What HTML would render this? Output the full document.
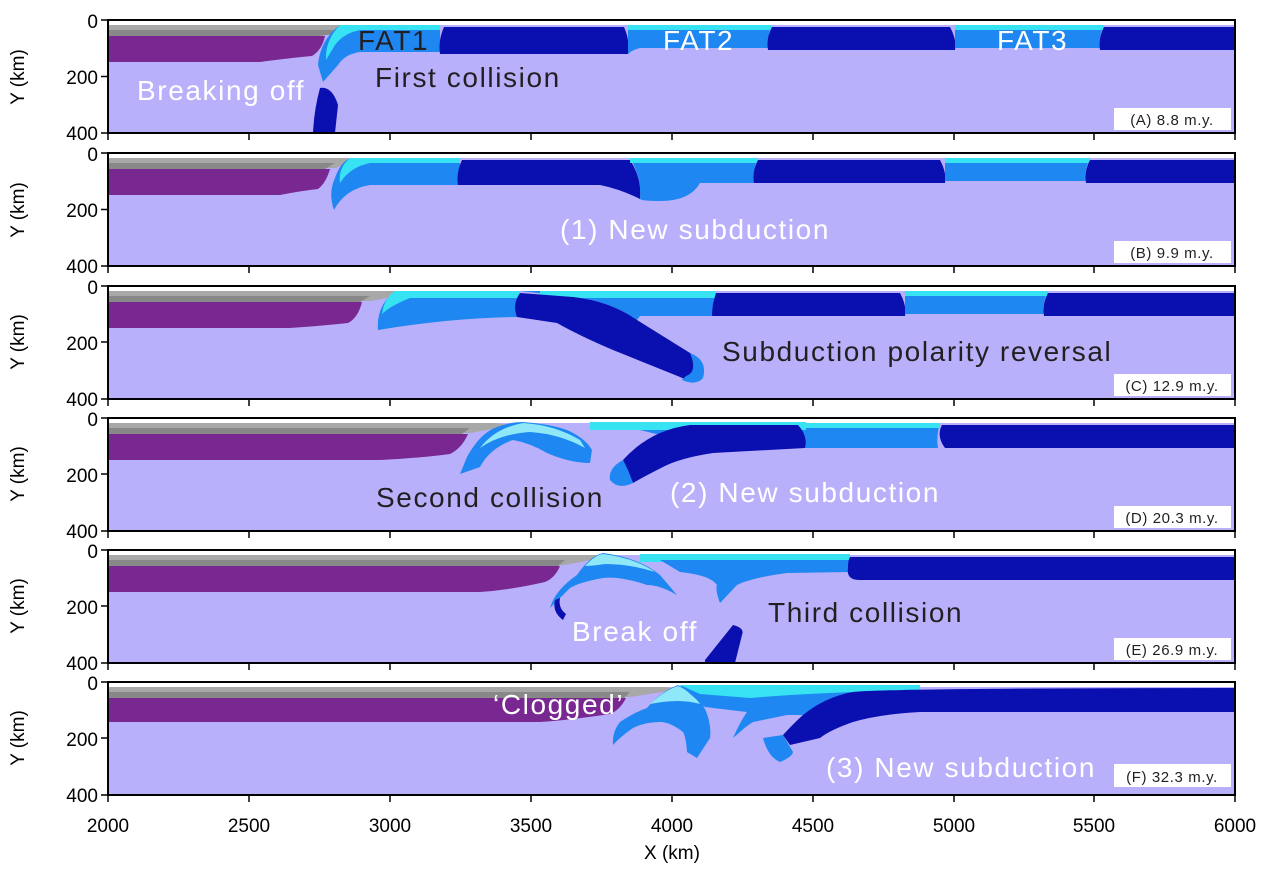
<!DOCTYPE html>
<html><head><meta charset="utf-8"><style>
body{margin:0;background:#fff;}
svg{display:block;font-family:"Liberation Sans",sans-serif;}
.big{font-size:28px;letter-spacing:1.6px;}
</style></head><body>
<svg width="1267" height="871" viewBox="0 0 1267 871" xmlns="http://www.w3.org/2000/svg">
<defs>
<g id="cont">
<rect x="108" y="0" width="1127" height="113" fill="#b9b0fb"/>
<rect x="108" y="0" width="1127" height="5" fill="#fff"/>
</g>
</defs>

<!-- Panel A -->
<g transform="translate(0,20)">
<use href="#cont"/>
<path d="M108 5 H340 Q350 5 356 8 L330 15 H108Z" fill="#a8a8a8"/>
<path d="M108 10 H330 Q340 10 345 12 L320 16 H108Z" fill="#888"/>
<path d="M108 16 H325 Q322 30 312 36 Q290 38 260 42 H108Z" fill="#7a2891"/>
<path d="M340 5 H440 V32 H360 Q345 34 338 45 L323 62 L318 45 Q320 20 340 5Z" fill="#1e87f2"/>
<path d="M340 5 H440 V10 H360 Q340 14 332 30 L326 40 Q325 20 340 5Z" fill="#37e3f3"/>
<path d="M320 68 Q332 66 338 85 L335 113 H313 Q314 90 320 68Z" fill="#0a0fb0"/>
<path d="M444 7 H624 Q630 20 628 34 H440 Q438 20 444 7Z" fill="#0a0fb0"/>
<path d="M628 5 H772 Q766 18 770 28 H640 Q632 30 628 34Z" fill="#1e87f2"/>
<path d="M628 5 H772 V10 H628Z" fill="#37e3f3"/>
<path d="M772 7 H950 Q957 20 955 30 H768 Q766 18 772 7Z" fill="#0a0fb0"/>
<path d="M955 5 H1104 Q1098 18 1100 28 H955Z" fill="#1e87f2"/>
<path d="M955 5 H1104 V10 H955Z" fill="#37e3f3"/>
<path d="M1104 7 H1235 V30 H1100 Q1098 18 1104 7Z" fill="#0a0fb0"/>
<text class="big" x="358" y="30" fill="#231f20">FAT1</text>
<text class="big" x="663" y="30" fill="#fff">FAT2</text>
<text class="big" x="997" y="30" fill="#fff">FAT3</text>
<text class="big" x="375" y="67" fill="#231f20">First collision</text>
<text class="big" x="137" y="80" fill="#fff">Breaking off</text>
</g>

<!-- Panel B -->
<g transform="translate(0,153)">
<use href="#cont"/>
<path d="M108 5 H345 Q352 6 358 8 L335 15 H108Z" fill="#a8a8a8"/>
<path d="M108 10 H335 L325 16 H108Z" fill="#888"/>
<path d="M108 16 H330 Q326 30 318 36 Q300 38 280 42 H108Z" fill="#7a2891"/>
<path d="M350 5 H460 V32 H370 Q345 36 334 57 Q328 40 335 25 Q340 10 350 5Z" fill="#1e87f2"/>
<path d="M350 5 H460 V10 H370 Q350 14 340 30 Q338 15 350 5Z" fill="#37e3f3"/>
<path d="M462 7 H630 Q642 25 640 46 Q620 36 600 32 H458 Q456 20 462 7Z" fill="#0a0fb0"/>
<path d="M630 5 H758 Q752 18 755 30 H700 Q690 48 660 48 Q642 48 640 46 Q642 25 630 5Z" fill="#1e87f2"/>
<path d="M630 5 H758 V10 H630Z" fill="#37e3f3"/>
<path d="M758 7 H940 Q947 20 945 30 H754 Q752 18 758 7Z" fill="#0a0fb0"/>
<path d="M945 5 H1090 Q1084 18 1086 28 H945Z" fill="#1e87f2"/>
<path d="M945 5 H1090 V10 H945Z" fill="#37e3f3"/>
<path d="M1090 7 H1235 V30 H1086 Q1084 18 1090 7Z" fill="#0a0fb0"/>
<text class="big" x="560" y="86" fill="#fff">(1) New subduction</text>
</g>

<!-- Panel C -->
<g transform="translate(0,286)">
<use href="#cont"/>
<path d="M108 5 H405 Q410 6 412 8 L370 15 H108Z" fill="#a8a8a8"/>
<path d="M108 10 H370 L360 16 H108Z" fill="#888"/>
<path d="M108 16 H362 Q358 32 348 37 Q320 40 290 42 H108Z" fill="#7a2891"/>
<path d="M395 5 H520 L517 31 Q450 32 378 44 Q376 20 395 5Z" fill="#1e87f2"/>
<path d="M395 5 H520 V12 H410 Q390 20 382 28 Q384 12 395 5Z" fill="#37e3f3"/>
<path d="M520 5 H716 Q712 18 714 30 H640 L637 34 Q610 15 573 11Z" fill="#1e87f2"/>
<path d="M540 5 H716 V12 H540Z" fill="#37e3f3"/>
<path d="M520 7 L573 11 Q610 15 637 34 L690 67 Q705 76 700 88 Q694 98 680 91 L613 64 Q580 50 557 37 L517 31 Q512 18 520 7Z" fill="#0a0fb0"/>
<path d="M690 67 Q708 74 703 92 Q696 100 682 94 L686 90 Q698 86 690 67Z" fill="#1e87f2"/>
<path d="M716 7 H900 Q907 20 905 30 H712 Q712 18 716 7Z" fill="#0a0fb0"/>
<path d="M905 5 H1048 Q1042 18 1044 28 H905Z" fill="#1e87f2"/>
<path d="M905 5 H1048 V10 H905Z" fill="#37e3f3"/>
<path d="M1048 7 H1235 V30 H1044 Q1042 18 1048 7Z" fill="#0a0fb0"/>
<text class="big" x="722" y="75" fill="#231f20">Subduction polarity reversal</text>
</g>

<!-- Panel D -->
<g transform="translate(0,418)">
<use href="#cont"/>
<path d="M108 5 H495 Q505 6 510 8 L470 15 H108Z" fill="#a8a8a8"/>
<path d="M108 10 H470 L462 16 H108Z" fill="#888"/>
<path d="M108 16 H468 Q462 30 450 36 Q420 40 380 42 H108Z" fill="#7a2891"/>
<path d="M467 39 Q480 15 497 9 Q510 4 523 4 Q550 6 567 12 Q585 20 592 32 L590 45 Q570 45 547 35 Q530 25 513 22 Q490 30 480 49 L460 56 Z" fill="#1e87f2"/>
<path d="M480 30 Q495 10 523 5 Q555 7 580 22 L585 30 Q560 16 530 14 Q500 16 480 30Z" fill="#8ee8f8"/>
<path d="M590 4 H806 V12 H590Z" fill="#37e3f3"/>
<path d="M640 12 H806 V30 H713 Z" fill="#1e87f2"/>
<path d="M806 5 H940 Q936 18 938 30 H806Z" fill="#1e87f2"/>
<path d="M806 5 H940 V10 H806Z" fill="#37e3f3"/>
<path d="M623 42 Q650 12 690 7 H798 Q808 18 805 30 L713 35 Q680 40 663 49 Q645 58 633 65 Z" fill="#0a0fb0"/>
<path d="M623 42 Q608 50 610 62 Q618 72 633 65 L628 52 Z" fill="#1e87f2"/>
<path d="M942 7 H1235 V30 H945 Q936 18 942 7Z" fill="#0a0fb0"/>
<text class="big" x="376" y="89" fill="#231f20">Second collision</text>
<text class="big" x="670" y="84" fill="#fff">(2) New subduction</text>
</g>

<!-- Panel E -->
<g transform="translate(0,550)">
<use href="#cont"/>
<path d="M108 5 H595 Q600 6 602 8 L565 15 H108Z" fill="#a8a8a8"/>
<path d="M108 10 H565 L558 16 H108Z" fill="#888"/>
<path d="M108 16 H560 Q555 28 545 32 Q510 40 480 42 H108Z" fill="#7a2891"/>
<path d="M577 25 Q590 6 603 3 Q640 8 660 25 L677 45 Q660 35 647 35 Q620 26 603 28 Q580 32 570 38 L550 58 Q555 40 577 25Z" fill="#1e87f2"/>
<path d="M585 16 Q595 5 603 4 Q635 8 655 22 Q630 14 605 14 Q592 16 585 16Z" fill="#8ee8f8"/>
<path d="M555 50 Q552 62 563 70 L566 64 Q558 58 560 48Z" fill="#0a0fb0"/>
<path d="M640 4 H850 V12 H640Z" fill="#37e3f3"/>
<path d="M660 10 H850 V22 L787 23 Q750 28 737 35 L720 53 Q715 40 717 35 Q710 25 680 22Z" fill="#1e87f2"/>
<path d="M850 7 H1235 V30 H860 Q846 30 848 18 Q848 10 850 7Z" fill="#0a0fb0"/>
<path d="M705 110 L733 75 Q745 78 742 85 L735 113 H705Z" fill="#0a0fb0"/>
<text class="big" x="572" y="91" fill="#fff">Break off</text>
<text class="big" x="768" y="72" fill="#231f20">Third collision</text>
</g>

<!-- Panel F -->
<g transform="translate(0,682)">
<use href="#cont"/>
<path d="M108 5 H665 Q672 6 675 8 L630 15 H108Z" fill="#a8a8a8"/>
<path d="M108 10 H630 L624 16 H108Z" fill="#888"/>
<path d="M108 16 H626 Q620 28 610 32 Q570 38 540 40 H108Z" fill="#7a2891"/>
<path d="M620 40 Q635 30 647 26 Q660 10 678 3 Q695 10 703 23 Q712 40 710 56 L697 76 L687 70 Q686 55 683 50 Q670 40 660 40 Q645 40 633 46 Q620 55 613 63 Q612 50 620 40Z" fill="#1e87f2"/>
<path d="M650 22 Q665 8 678 4 Q692 10 700 22 Q680 16 650 22Z" fill="#8ee8f8"/>
<path d="M680 3 H920 V8 L853 10 Q820 20 803 33 L787 33 L753 40 Q745 45 740 50 L733 56 Q740 40 747 30 Q730 28 705 25Z" fill="#1e87f2"/>
<path d="M680 3 H920 V8 Q820 10 750 16 L700 12Z" fill="#37e3f3"/>
<path d="M763 56 Q768 75 780 80 Q792 75 793 70 L783 53Z" fill="#1e87f2"/>
<path d="M783 53 Q795 40 803 33 Q825 15 853 10 Q890 6 1235 6 V30 H920 Q880 32 853 40 Q830 48 820 56 L790 63 Z" fill="#0a0fb0"/>
<text class="big" x="493" y="32" fill="#fff">‘Clogged’</text>
<text class="big" x="826" y="95" fill="#fff">(3) New subduction</text>
</g>

<!-- frames, labels -->
<g fill="none" stroke="#000" stroke-width="2">
<rect x="108" y="20" width="1127" height="113"/>
<rect x="108" y="153" width="1127" height="113"/>
<rect x="108" y="286" width="1127" height="113"/>
<rect x="108" y="418" width="1127" height="113"/>
<rect x="108" y="550" width="1127" height="113"/>
<rect x="108" y="682" width="1127" height="113"/>
</g>
<g fill="#fff">
<rect x="1114" y="108" width="117" height="22"/>
<rect x="1114" y="241" width="117" height="22"/>
<rect x="1114" y="374" width="117" height="22"/>
<rect x="1114" y="506" width="117" height="22"/>
<rect x="1114" y="638" width="117" height="22"/>
<rect x="1114" y="764" width="117" height="23"/>
</g>
<g font-size="15" letter-spacing="0.6" fill="#231f20" text-anchor="middle">
<text x="1172" y="125">(A) 8.8 m.y.</text>
<text x="1172" y="258">(B) 9.9 m.y.</text>
<text x="1172" y="391">(C) 12.9 m.y.</text>
<text x="1172" y="523">(D) 20.3 m.y.</text>
<text x="1172" y="655">(E) 26.9 m.y.</text>
<text x="1172" y="782">(F) 32.3 m.y.</text>
</g>
<g stroke="#000" stroke-width="1.5">
<path d="M101 20H108M101 76.5H108M101 133H108M101 153H108M101 209.5H108M101 266H108M101 286H108M101 342H108M101 399H108M101 418H108M101 474H108M101 531H108M101 550H108M101 606H108M101 663H108M101 682H108M101 738H108M101 795H108"/>
<path id="xt" d="M108 133v7M249 133v7M390 133v7M531 133v7M672 133v7M813 133v7M954 133v7M1094 133v7M1235 133v7"/>
<use href="#xt" y="133"/><use href="#xt" y="266"/><use href="#xt" y="398"/><use href="#xt" y="530"/><use href="#xt" y="662"/>
</g>
<g font-size="19" fill="#000" text-anchor="end">
<text x="98" y="28">0</text><text x="98" y="84">200</text><text x="98" y="140">400</text>
<text x="98" y="161">0</text><text x="98" y="217">200</text><text x="98" y="273">400</text>
<text x="98" y="294">0</text><text x="98" y="350">200</text><text x="98" y="406">400</text>
<text x="98" y="426">0</text><text x="98" y="482">200</text><text x="98" y="538">400</text>
<text x="98" y="558">0</text><text x="98" y="614">200</text><text x="98" y="670">400</text>
<text x="98" y="690">0</text><text x="98" y="746">200</text><text x="98" y="802">400</text>
</g>
<g font-size="19" fill="#000" text-anchor="middle">
<text transform="translate(24,77) rotate(-90)">Y (km)</text>
<text transform="translate(24,210) rotate(-90)">Y (km)</text>
<text transform="translate(24,342) rotate(-90)">Y (km)</text>
<text transform="translate(24,474) rotate(-90)">Y (km)</text>
<text transform="translate(24,606) rotate(-90)">Y (km)</text>
<text transform="translate(24,738) rotate(-90)">Y (km)</text>
<text x="108" y="832">2000</text><text x="249" y="832">2500</text><text x="390" y="832">3000</text>
<text x="531" y="832">3500</text><text x="672" y="832">4000</text><text x="813" y="832">4500</text>
<text x="954" y="832">5000</text><text x="1094" y="832">5500</text><text x="1235" y="832">6000</text>
<text x="672" y="859">X (km)</text>
</g>
</svg>
</body></html>
